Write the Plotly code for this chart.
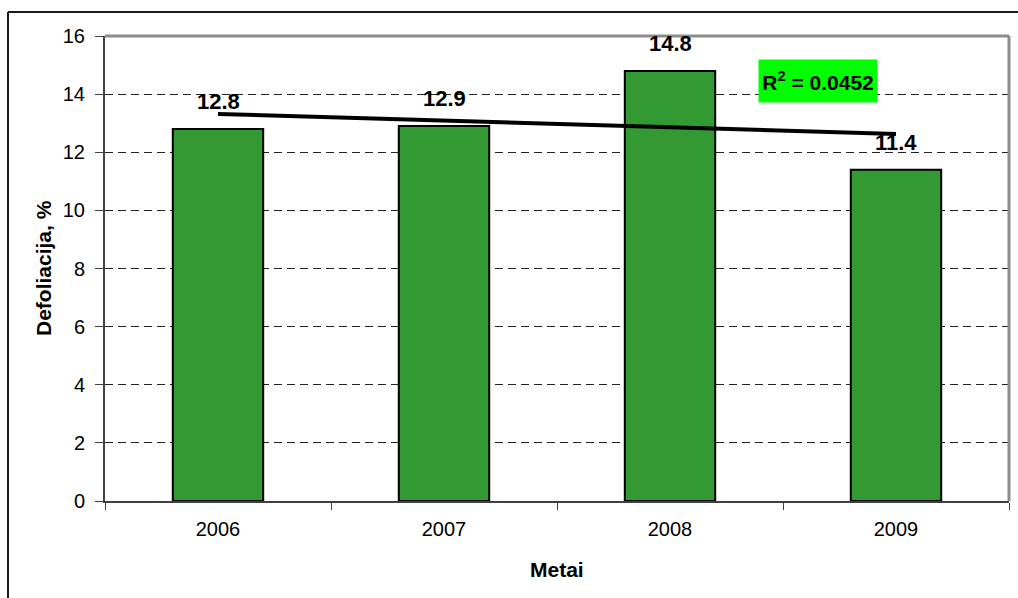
import numpy as np
import plotly.graph_objects as go

# Crown defoliation by year
years = ["2006", "2007", "2008", "2009"]
defoliation = [12.8, 12.9, 14.8, 11.4]
y_ticks = [0, 2, 4, 6, 8, 10, 12, 14, 16]

# Linear trend over the year index and its coefficient of determination
idx = np.arange(len(years))
slope, intercept = np.polyfit(idx, defoliation, 1)
trend = slope * idx + intercept
vals = np.array(defoliation)
r2 = 1 - np.sum((vals - trend) ** 2) / np.sum((vals - vals.mean()) ** 2)

W, H = 1018, 598
L, R, T, B = 105, 9, 36, 97
pw, ph = W - L - R, H - T - B
FONT = "Arial, Liberation Sans, sans-serif"

fig = go.Figure()

fig.add_trace(go.Bar(
    x=years, y=defoliation,
    marker=dict(color="#339933", line=dict(color="#000000", width=2)),
    width=0.4, showlegend=False, hoverinfo="x+y",
))

fig.add_trace(go.Scatter(
    x=years, y=trend, mode="lines",
    line=dict(color="#000000", width=4), showlegend=False, hoverinfo="skip",
))

annotations = []
for i, v in zip(idx, defoliation):
    annotations.append(dict(
        x=int(i), y=v, xref="x", yref="y", text=f"<b>{v:.1f}</b>",
        showarrow=False, xanchor="center", yanchor="bottom", yshift=13,
        font=dict(family=FONT, size=22, color="#000000"),
    ))

# R² badge
annotations.append(dict(
    x=(818 - L) / pw, y=(H - B - 80.5) / ph, xref="paper", yref="paper",
    text=f"<b>R<sup>2</sup> = {r2:.4f}</b>", showarrow=False,
    xanchor="center", yanchor="middle", bgcolor="#00FF00",
    width=114, height=38, borderpad=2,
    font=dict(family=FONT, size=21, color="#000000"),
))

# Axis titles
annotations.append(dict(
    x=(557 - L) / pw, y=(H - B - 569) / ph, xref="paper", yref="paper",
    text="<b>Metai</b>", showarrow=False, xanchor="center", yanchor="middle",
    font=dict(family=FONT, size=21, color="#000000"),
))
annotations.append(dict(
    x=(43 - L) / pw, y=(H - B - 268) / ph, xref="paper", yref="paper",
    text="<b>Defoliacija, %</b>", showarrow=False, textangle=-90,
    xanchor="center", yanchor="middle",
    font=dict(family=FONT, size=21, color="#000000"),
))

shapes = [
    # plot frame, top and right
    dict(type="line", xref="paper", yref="paper", x0=0, x1=1, y0=1, y1=1,
         line=dict(color="#8c8c8c", width=3)),
    dict(type="line", xref="paper", yref="paper", x0=1, x1=1, y0=0, y1=1,
         line=dict(color="#8c8c8c", width=3)),
    # chart area border
    dict(type="line", xref="paper", yref="paper",
         x0=(8 - L) / pw, x1=(8 - L) / pw, y0=(H - B - 12) / ph, y1=(H - B - 620) / ph,
         line=dict(color="#1a1a1a", width=2)),
    dict(type="line", xref="paper", yref="paper",
         x0=(8 - L) / pw, x1=(1040 - L) / pw, y0=(H - B - 12) / ph, y1=(H - B - 12) / ph,
         line=dict(color="#1a1a1a", width=2)),
]

fig.update_layout(
    width=W, height=H,
    margin=dict(l=L, r=R, t=T, b=B, pad=0),
    paper_bgcolor="#ffffff", plot_bgcolor="#ffffff",
    font=dict(family=FONT, size=20, color="#000000"),
    bargap=0.6,
    annotations=annotations,
    shapes=shapes,
    xaxis=dict(
        type="category", tickson="boundaries", ticks="outside", ticklen=7,
        tickwidth=1, tickcolor="#404040",
        showline=True, linecolor="#404040", linewidth=2,
        showgrid=False, tickfont=dict(size=20), ticklabelstandoff=9,
        range=[-0.5, 3.5],
    ),
    yaxis=dict(
        range=[0, 16], tickvals=y_ticks, ticks="outside", ticklen=8,
        tickwidth=1, tickcolor="#404040",
        showline=True, linecolor="#404040", linewidth=2,
        showgrid=True, gridcolor="#222222", gridwidth=1, griddash="8px,5px",
        zeroline=False, tickfont=dict(size=20), ticklabelstandoff=6,
    ),
)

fig.write_html("out.html")
